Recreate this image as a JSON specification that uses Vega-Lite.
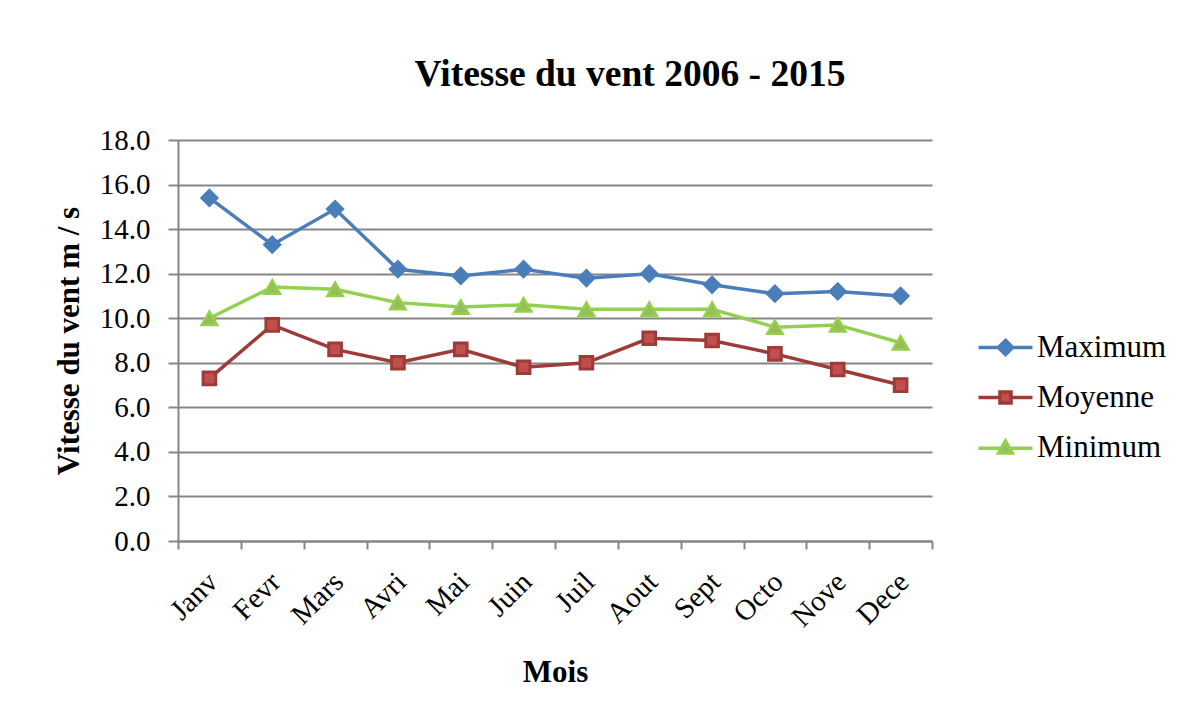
{
  "$schema": "https://vega.github.io/schema/vega-lite/v6.json",
  "autosize": {"type": "none"},
  "padding": {"left": 178, "top": 140, "right": 250, "bottom": 165},
  "width": 754,
  "height": 401,
  "background": "white",
  "config": {"font": "Liberation Serif", "view": {"stroke": null}},
  "title": {
    "text": "Vitesse du vent 2006 - 2015",
    "font": "Liberation Serif",
    "fontSize": 37.5,
    "fontWeight": "bold",
    "color": "black",
    "anchor": "middle",
    "dx": 75,
    "offset": 3,
    "baseline": "alphabetic"
  },
  "data": {
    "values": [
      {"mois": "Janv", "serie": "Maximum", "valeur": 15.4},
      {"mois": "Fevr", "serie": "Maximum", "valeur": 13.3},
      {"mois": "Mars", "serie": "Maximum", "valeur": 14.9},
      {"mois": "Avri", "serie": "Maximum", "valeur": 12.2},
      {"mois": "Mai", "serie": "Maximum", "valeur": 11.9},
      {"mois": "Juin", "serie": "Maximum", "valeur": 12.2},
      {"mois": "Juil", "serie": "Maximum", "valeur": 11.8},
      {"mois": "Aout", "serie": "Maximum", "valeur": 12.0},
      {"mois": "Sept", "serie": "Maximum", "valeur": 11.5},
      {"mois": "Octo", "serie": "Maximum", "valeur": 11.1},
      {"mois": "Nove", "serie": "Maximum", "valeur": 11.2},
      {"mois": "Dece", "serie": "Maximum", "valeur": 11.0},
      {"mois": "Janv", "serie": "Moyenne", "valeur": 7.3},
      {"mois": "Fevr", "serie": "Moyenne", "valeur": 9.7},
      {"mois": "Mars", "serie": "Moyenne", "valeur": 8.6},
      {"mois": "Avri", "serie": "Moyenne", "valeur": 8.0},
      {"mois": "Mai", "serie": "Moyenne", "valeur": 8.6},
      {"mois": "Juin", "serie": "Moyenne", "valeur": 7.8},
      {"mois": "Juil", "serie": "Moyenne", "valeur": 8.0},
      {"mois": "Aout", "serie": "Moyenne", "valeur": 9.1},
      {"mois": "Sept", "serie": "Moyenne", "valeur": 9.0},
      {"mois": "Octo", "serie": "Moyenne", "valeur": 8.4},
      {"mois": "Nove", "serie": "Moyenne", "valeur": 7.7},
      {"mois": "Dece", "serie": "Moyenne", "valeur": 7.0},
      {"mois": "Janv", "serie": "Minimum", "valeur": 10.0},
      {"mois": "Fevr", "serie": "Minimum", "valeur": 11.4},
      {"mois": "Mars", "serie": "Minimum", "valeur": 11.3},
      {"mois": "Avri", "serie": "Minimum", "valeur": 10.7},
      {"mois": "Mai", "serie": "Minimum", "valeur": 10.5},
      {"mois": "Juin", "serie": "Minimum", "valeur": 10.6},
      {"mois": "Juil", "serie": "Minimum", "valeur": 10.4},
      {"mois": "Aout", "serie": "Minimum", "valeur": 10.4},
      {"mois": "Sept", "serie": "Minimum", "valeur": 10.4},
      {"mois": "Octo", "serie": "Minimum", "valeur": 9.6},
      {"mois": "Nove", "serie": "Minimum", "valeur": 9.7},
      {"mois": "Dece", "serie": "Minimum", "valeur": 8.9}
    ]
  },
  "encoding": {
    "x": {
      "field": "mois",
      "type": "nominal",
      "sort": ["Janv", "Fevr", "Mars", "Avri", "Mai", "Juin", "Juil", "Aout", "Sept", "Octo", "Nove", "Dece"],
      "scale": {"type": "band", "paddingInner": 0, "paddingOuter": 0},
      "axis": {
        "title": "Mois",
        "titleFont": "Liberation Serif",
        "titleFontSize": 31,
        "titleFontWeight": "bold",
        "titleColor": "black",
        "titlePadding": 25,
        "labelFont": "Liberation Serif",
        "labelFontSize": 29,
        "labelColor": "black",
        "labelAngle": -45,
        "labelAlign": "right",
        "labelBaseline": "middle",
        "labelPadding": 28,
        "labelOffset": 3,
        "tickBand": "extent",
        "tickSize": 8,
        "tickColor": "#868686",
        "tickWidth": 2,
        "domainColor": "#868686",
        "domainWidth": 2,
        "grid": false
      }
    },
    "y": {
      "field": "valeur",
      "type": "quantitative",
      "scale": {"domain": [0, 18], "nice": false, "zero": true},
      "axis": {
        "title": "Vitesse du vent m / s",
        "titleFont": "Liberation Serif",
        "titleFontSize": 31,
        "titleFontWeight": "bold",
        "titleColor": "black",
        "titlePadding": 14,
        "labelFont": "Liberation Serif",
        "labelFontSize": 29,
        "labelColor": "black",
        "labelPadding": 18,
        "format": ".1f",
        "values": [0, 2, 4, 6, 8, 10, 12, 14, 16, 18],
        "tickSize": 10,
        "tickColor": "#868686",
        "tickWidth": 2,
        "domainColor": "#868686",
        "domainWidth": 2,
        "grid": true,
        "gridColor": "#868686",
        "gridWidth": 2
      }
    }
  },
  "layer": [
    {
      "mark": {"type": "line", "strokeWidth": 3.5},
      "encoding": {
        "stroke": {
          "field": "serie",
          "type": "nominal",
          "scale": {"domain": ["Maximum", "Moyenne", "Minimum"], "range": ["#4A7EBB", "#9E3B38", "#92D050"]},
          "legend": {
            "title": null,
            "orient": "none",
            "legendX": 812,
            "legendY": 192,
            "labelFont": "Liberation Serif",
            "labelFontSize": 31,
            "labelColor": "black",
            "labelOffset": 16,
            "rowPadding": 18,
            "symbolSize": 169,
            "symbolStrokeWidth": 3.5,
            "symbolType": "M-4.15,0H4.15",
            "encode": {
              "symbols": {
                "update": {
                  "shape": {"signal": "datum.value === 'Maximum' ? 'M-4.15,0H-1M1,0H4.15M0,-1.1L1.1,0L0,1.1L-1.1,0Z' : datum.value === 'Moyenne' ? 'M-4.15,0H-0.85M0.85,0H4.15M-0.85,-0.85H0.85V0.85H-0.85Z' : 'M-4.15,0.1H-0.55M0.55,0.1H4.15M0,-1L1.05,0.85H-1.05Z'"},
                  "fill": {"signal": "datum.value === 'Maximum' ? '#4A7EBB' : datum.value === 'Moyenne' ? '#C0504D' : '#9BBB59'"},
                  "stroke": {"signal": "datum.value === 'Maximum' ? '#4A7EBB' : datum.value === 'Moyenne' ? '#9E3B38' : '#92D050'"},
                  "opacity": {"value": 1},
                  "fillOpacity": {"value": 1},
                  "strokeOpacity": {"value": 1}
                }
              }
            }
          }
        }
      }
    },
    {
      "transform": [{"filter": "datum.serie === 'Maximum'"}],
      "mark": {"type": "point", "shape": "diamond", "size": 270, "filled": true, "fill": "#4A7EBB", "stroke": "#4A7EBB", "strokeWidth": 2, "opacity": 1}
    },
    {
      "transform": [{"filter": "datum.serie === 'Moyenne'"}],
      "mark": {"type": "point", "shape": "square", "size": 160, "filled": true, "fill": "#C0504D", "stroke": "#9E3B38", "strokeWidth": 3, "opacity": 1}
    },
    {
      "transform": [{"filter": "datum.serie === 'Minimum'"}],
      "mark": {"type": "point", "shape": "triangle-up", "size": 240, "filled": true, "fill": "#9BBB59", "stroke": "#92D050", "strokeWidth": 2.5, "opacity": 1}
    }
  ]
}
